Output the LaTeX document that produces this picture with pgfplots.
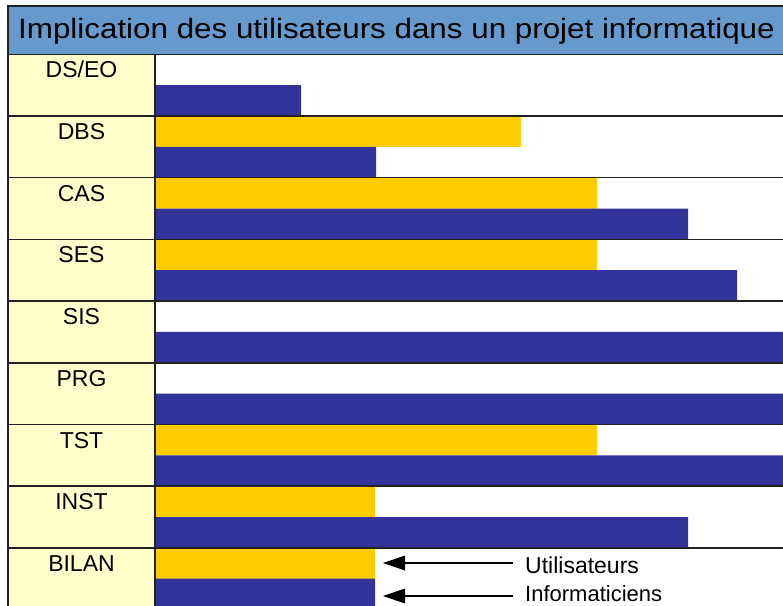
\documentclass[border=0pt]{standalone}
\usepackage{pgfplots}
\pgfplotsset{compat=1.18}
\usepackage{graphicx}
\usepackage{fontspec}
\setmainfont{Liberation Sans}
\definecolor{ubar}{HTML}{FFCC00}
\definecolor{ibar}{HTML}{333399}
\definecolor{band}{HTML}{6699CC}
\definecolor{labcol}{HTML}{FFFFCC}
\definecolor{rule}{HTML}{222222}
\begin{document}
\begin{tikzpicture}[x=1pt,y=1pt]
\useasboundingbox (0,0) rectangle (783,605);
\fill[white] (0,0) rectangle (783,605);
% title band
\fill[band] (8,550.7) rectangle (790,599);
% label column
\fill[labcol] (8,-10) rectangle (155,550.7);
\begin{axis}[at={(155pt,-4.6pt)}, anchor=south west, scale only axis,
  width=628pt, height=555.3pt, xmin=0, xmax=628, ymin=-0.5, ymax=8.5,
  hide axis, xbar, bar width=30.85pt]
\addplot[fill=ubar, draw=none, bar shift=15.4pt] coordinates
  {(0,8) (366,7) (442,6) (442,5) (0,4) (0,3) (442,2) (220,1) (220,0)};
\addplot[fill=ibar, draw=none, bar shift=-15.4pt] coordinates
  {(146,8) (221,7) (533,6) (582,5) (628,4) (628,3) (628,2) (533,1) (220,0)};
\end{axis}
% title
\draw[rule, line width=1.5pt] (8,-10) -- (8,599) -- (790,599);
\node[anchor=base west, inner sep=0pt] at (18,566.7)
  {\scalebox{1.12}[1]{\fontsize{28}{32}\selectfont Implication des utilisateurs dans un projet informatique}};
% row lines
\foreach \i in {0,...,9} {
  \draw[rule, line width=1.5pt] (8,{550.7-61.7*\i}) -- (790,{550.7-61.7*\i});
}
\draw[rule, line width=1.5pt] (155,-10) -- (155,550.7);
% labels
\foreach \lab [count=\i from 0] in {DS/EO,DBS,CAS,SES,SIS,PRG,TST,INST,BILAN} {
  \node[anchor=base, inner sep=0pt, font=\fontsize{23}{27}\selectfont] at (81.5,{550.7-61.7*\i-23.5}) {\lab};
}
% legend arrows
\foreach \yy in {42,9} {
  \draw[black, line width=1.5pt] (403,\yy) -- (513,\yy);
  \fill[black] (383,\yy) -- (405,\yy+7.5) -- (405,\yy-7.5) -- cycle;
}
\node[anchor=base west, inner sep=0pt, font=\fontsize{23}{27}\selectfont] at (525,32) {Utilisateurs};
\node[anchor=base west, inner sep=0pt, font=\fontsize{22}{26}\selectfont] at (525,3.5) {Informaticiens};
\end{tikzpicture}
\end{document}
